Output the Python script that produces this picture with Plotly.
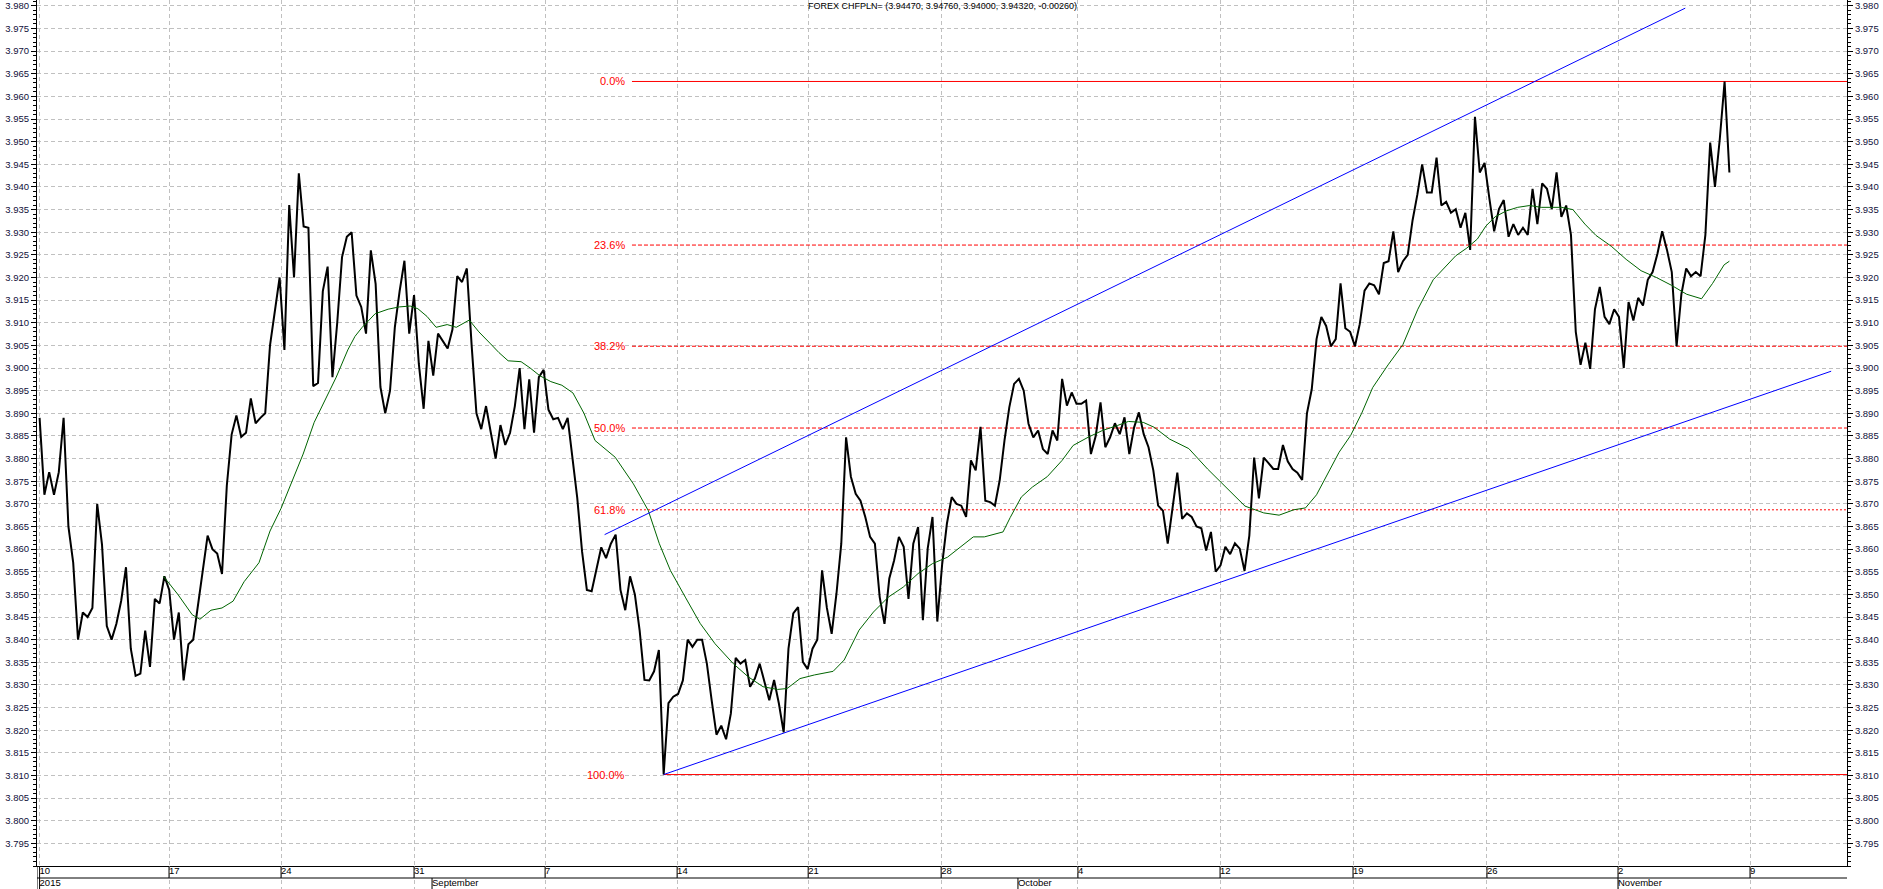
import plotly.graph_objects as go

# ---------------- data ----------------
close = [
    3.889, 3.872, 3.877, 3.872, 3.877, 3.889, 3.865, 3.857, 3.840, 3.846,
    3.845, 3.847, 3.870, 3.861, 3.843, 3.840, 3.8435, 3.8486, 3.856, 3.838,
    3.832, 3.8325, 3.842, 3.834, 3.849, 3.848, 3.854, 3.851, 3.840, 3.846,
    3.831, 3.839, 3.840, 3.848, 3.855, 3.863, 3.860, 3.859, 3.8545, 3.874,
    3.8853, 3.8895, 3.8848, 3.8857, 3.8933, 3.8878, 3.889, 3.890, 3.905, 3.9127,
    3.920, 3.904, 3.936, 3.920, 3.943, 3.9313, 3.931, 3.896, 3.8967, 3.917,
    3.9224, 3.898, 3.910, 3.9245, 3.929, 3.930, 3.916, 3.9135, 3.9076, 3.926,
    3.9186, 3.8958, 3.890, 3.895, 3.909, 3.917, 3.9237, 3.9076, 3.9161, 3.9009,
    3.891, 3.906, 3.8983, 3.9076, 3.906, 3.9043, 3.9085, 3.9203, 3.919, 3.922,
    3.905, 3.890, 3.8865, 3.8916, 3.8857, 3.880, 3.8874, 3.883, 3.8857, 3.8916,
    3.900, 3.8865, 3.8975, 3.8857, 3.898, 3.8996, 3.8908, 3.8887, 3.889, 3.8865,
    3.889, 3.880, 3.8713, 3.8595, 3.851, 3.8507, 3.8553, 3.8604, 3.858, 3.8612,
    3.8632, 3.851, 3.8465, 3.854, 3.850, 3.842, 3.8311, 3.831, 3.833, 3.8377,
    3.8102, 3.826, 3.8274, 3.828, 3.831, 3.840, 3.8384, 3.840, 3.840, 3.8347,
    3.8266, 3.819, 3.821, 3.818, 3.8237, 3.836, 3.8347, 3.8355, 3.8296, 3.8314,
    3.8347, 3.8303, 3.8266, 3.8311, 3.8259, 3.8195, 3.838, 3.8458, 3.8472, 3.8351,
    3.8335, 3.838, 3.840, 3.8553, 3.847, 3.8413, 3.8502, 3.8612, 3.8847, 3.876,
    3.8722, 3.8707, 3.8671, 3.8627, 3.8612, 3.8494, 3.8435, 3.8535, 3.8575, 3.8627,
    3.8605, 3.849, 3.8612, 3.8649, 3.8443, 3.8601, 3.8671, 3.844, 3.8565, 3.8656,
    3.8715, 3.870, 3.8696, 3.8671, 3.8796, 3.8774, 3.887, 3.8707, 3.8704, 3.8696,
    3.8752, 3.884, 3.8913, 3.8965, 3.8976, 3.895, 3.8877, 3.8847, 3.8862, 3.8821,
    3.881, 3.8862, 3.884, 3.8976, 3.8917, 3.8946, 3.8921, 3.8921, 3.8928, 3.881,
    3.885, 3.8924, 3.8825, 3.8847, 3.8878, 3.8854, 3.8891, 3.881, 3.8869, 3.8902,
    3.8854, 3.8825, 3.8774, 3.8696, 3.8685, 3.8612, 3.8689, 3.8769, 3.8667, 3.8679,
    3.8671, 3.865, 3.8646, 3.8597, 3.8638, 3.855, 3.8564, 3.8605, 3.8589, 3.8613,
    3.8601, 3.8552, 3.863, 3.8802, 3.8712, 3.8802, 3.879, 3.8777, 3.8777, 3.883,
    3.8794, 3.8777, 3.8769, 3.8753, 3.890, 3.8953, 3.9064, 3.9113, 3.9093, 3.9048,
    3.9064, 3.9187, 3.9088, 3.908, 3.9048, 3.9097, 3.9171, 3.9187, 3.9183, 3.9163,
    3.9232, 3.9236, 3.9302, 3.9212, 3.9236, 3.925, 3.9326, 3.9383, 3.945, 3.9388,
    3.9388, 3.9465, 3.9359, 3.9367, 3.9343, 3.9351, 3.931, 3.9343, 3.9261, 3.9555,
    3.9432, 3.9453, 3.9375, 3.9302, 3.9351, 3.9371, 3.929, 3.9318, 3.9294, 3.931,
    3.9294, 3.9396, 3.9318, 3.9408, 3.9396, 3.9351, 3.9432, 3.9334, 3.9359, 3.9294,
    3.908, 3.9007, 3.9056, 3.8998, 3.913, 3.9179, 3.9113, 3.9097, 3.913, 3.9113,
    3.900, 3.9146, 3.9105, 3.9155, 3.9138, 3.9195, 3.9212, 3.9252, 3.9302, 3.9261,
    3.9212, 3.9048, 3.9163, 3.922, 3.9203, 3.9212, 3.9203, 3.9294, 3.9498, 3.940,
    3.9506, 3.9633, 3.9432,
]
bars = list(range(len(close)))

# moving average (green): bar position / value
ma_x = [
    25.8, 28.8, 31.8, 33.4, 35.7, 38.0, 40.3, 42.6, 45.7, 48.0,
    50.3, 52.6, 54.9, 57.2, 59.5, 61.8, 64.2, 65.7, 67.2, 69.9,
    72.6, 74.9, 77.2, 78.8, 80.7, 82.6, 84.9, 86.8, 89.5, 91.5,
    93.8, 95.7, 97.6, 100.3, 102.2, 104.2, 106.5, 108.8, 111.1, 113.4,
    115.7, 118.0, 119.9, 123.7, 126.8, 129.1, 131.4, 134.5, 137.6, 140.7,
    144.5, 147.6, 150.7, 153.7, 155.7, 158.4, 161.4, 165.3, 167.6, 170.7,
    173.7, 176.8, 179.9, 183.0, 186.0, 189.1, 192.2, 194.5, 196.8, 200.7,
    202.2, 204.5, 206.8, 209.9, 213.0, 215.3, 218.4, 221.4, 224.5, 226.8,
    229.9, 232.2, 235.4, 239.4, 243.3, 247.2, 251.1, 255.0, 258.2, 261.3,
    263.7, 266.0, 268.4, 270.7, 273.1, 275.4, 277.7, 280.9, 284.0, 287.1,
    290.3, 292.6, 295.0, 297.3, 299.5, 301.3, 303.2, 305.5, 307.9, 310.4,
    312.8, 315.2, 317.0, 319.4, 321.9, 324.2, 327.4, 330.5, 333.6, 336.8,
    339.9, 343.1, 346.2, 348.5, 350.9, 352.0,
]
ma_y = [
    3.854, 3.850, 3.8455, 3.8445, 3.8465, 3.847, 3.8485, 3.8528, 3.857, 3.864,
    3.869, 3.875, 3.881, 3.888, 3.893, 3.898, 3.904, 3.907, 3.909, 3.912,
    3.913, 3.9135, 3.9137, 3.9131, 3.9114, 3.909, 3.9096, 3.909, 3.9106, 3.908,
    3.9055, 3.9034, 3.9016, 3.9014, 3.900, 3.8983, 3.897, 3.8962, 3.8945, 3.890,
    3.884, 3.882, 3.8803, 3.8744, 3.8685, 3.8612, 3.8553, 3.8494, 3.8436, 3.8391,
    3.8347, 3.8318, 3.8296, 3.829, 3.8292, 3.8314, 3.8322, 3.833, 3.8355, 3.8421,
    3.8461, 3.8494, 3.8516, 3.8546, 3.8568, 3.8582, 3.8608, 3.8627, 3.8627, 3.8638,
    3.867, 3.8715, 3.8737, 3.876, 3.8796, 3.8829, 3.8847, 3.8862, 3.8873, 3.8882,
    3.888, 3.8869, 3.8843, 3.8822, 3.8777, 3.8736, 3.8695, 3.868, 3.8675, 3.8687,
    3.8691, 3.872, 3.8769, 3.8814, 3.8851, 3.890, 3.8957, 3.9007, 3.9052, 3.913,
    3.9195, 3.922, 3.9248, 3.9265, 3.9285, 3.9314, 3.9334, 3.9347, 3.9355, 3.9359,
    3.9355, 3.9355, 3.9355, 3.935, 3.9318, 3.9293, 3.9269, 3.924, 3.9215, 3.920,
    3.9183, 3.9163, 3.9153, 3.9187, 3.9228, 3.9236,
]

# channel (trend) lines: bar position / price
trend_up_x = [117.7, 342.8]
trend_up_y = [3.8632, 3.9795]
trend_lo_x = [130.0, 373.2]
trend_lo_y = [3.8102, 3.8993]

# Fibonacci retracement
fib_high = 3.9633
fib_low = 3.8102
fib_label_x = 123.4
fib_levels = [0.0, 23.6, 38.2, 50.0, 61.8, 100.0]
fib_line_x0 = [123.4, 123.4, 123.4, 123.4, 123.4, 130.0]
fib_dash = ["solid", "4px,2px", "4px,2px", "4px,2px", "2px,2px", "solid"]

# time axis (bar positions of week starts / month starts)
week_pos = [0, 26.96, 50.3, 78.0, 105.3, 132.8, 160.1, 187.8, 216.3, 245.9, 273.6, 301.5, 328.8, 356.3]
week_lbl = ["10", "17", "24", "31", "7", "14", "21", "28", "4", "12", "19", "26", "2", "9"]
month_pos = [0, 81.75, 203.8, 328.8]
month_lbl = ["2015", "September", "October", "November"]

y_ticks = [round(3.795 + 0.005 * i, 3) for i in range(38)]
y_text = [f"{v:.3f}" for v in y_ticks]

title_text = "FOREX CHFPLN= (3.94470, 3.94760, 3.94000, 3.94320, -0.00260)"

X_MIN, X_MAX = -0.54, 376.5
Y_MIN, Y_MAX = 3.790, 3.9813

W, H = 1883, 889
STRIP = 23  # px height of the date strip
FONT = "Liberation Sans, Arial, sans-serif"
GRID = "#c0c0c0"

fig = go.Figure()

fig.add_trace(go.Scatter(x=bars, y=close, mode="lines",
                         line=dict(color="black", width=2), hoverinfo="skip", showlegend=False))
fig.add_trace(go.Scatter(x=ma_x, y=ma_y, mode="lines", yaxis="y3",
                         line=dict(color="#006400", width=1), hoverinfo="skip", showlegend=False))
fig.add_trace(go.Scatter(x=trend_up_x, y=trend_up_y, mode="lines", yaxis="y3",
                         line=dict(color="#0000ff", width=1), hoverinfo="skip", showlegend=False))
fig.add_trace(go.Scatter(x=trend_lo_x, y=trend_lo_y, mode="lines", yaxis="y3",
                         line=dict(color="#0000ff", width=1), hoverinfo="skip", showlegend=False))

# date strip text
fig.add_trace(go.Scatter(x=week_pos, y=[17.2] * len(week_pos), text=week_lbl, mode="text",
                         yaxis="y4", textposition="middle right", cliponaxis=False,
                         textfont=dict(family=FONT, size=9.5, color="black"),
                         hoverinfo="skip", showlegend=False))
fig.add_trace(go.Scatter(x=month_pos, y=[5.5] * len(month_pos), text=month_lbl, mode="text",
                         yaxis="y4", textposition="middle right", cliponaxis=False,
                         textfont=dict(family=FONT, size=9.5, color="black"),
                         hoverinfo="skip", showlegend=False))

shapes = []
annotations = []
rng = fib_high - fib_low
for lvl, x0, dash in zip(fib_levels, fib_line_x0, fib_dash):
    val = fib_high - rng * lvl / 100.0
    shapes.append(dict(type="line", xref="x", yref="y", x0=x0, x1=X_MAX, y0=val, y1=val,
                       line=dict(color="#ff0000", width=1, dash=dash), layer="between"))
    annotations.append(dict(xref="x", yref="y", x=fib_label_x, y=val, xanchor="right", yanchor="middle",
                            xshift=-5, text=f"{lvl:.1f}%", showarrow=False,
                            font=dict(family=FONT, size=11, color="#ff0000")))

# date strip frame
shapes.append(dict(type="line", xref="x", yref="y4", x0=X_MIN, x1=X_MAX, y0=11, y1=11,
                   line=dict(color="black", width=1)))
shapes.append(dict(type="line", xref="x", yref="y4", x0=X_MIN, x1=X_MIN, y0=0, y1=STRIP,
                   line=dict(color="black", width=1)))
for p in week_pos:
    shapes.append(dict(type="line", xref="x", yref="y4", x0=p, x1=p, y0=11, y1=STRIP,
                       line=dict(color="black", width=1)))
for p in month_pos:
    shapes.append(dict(type="line", xref="x", yref="y4", x0=p, x1=p, y0=0, y1=11,
                       line=dict(color="black", width=1)))

annotations.append(dict(xref="paper", yref="paper", x=0.5, y=1, xanchor="center", yanchor="top",
                        yshift=1, text=title_text, showarrow=False,
                        font=dict(family=FONT, size=9, color="black")))

ytick_common = dict(
    range=[Y_MIN, Y_MAX], tickmode="array", tickvals=y_ticks, ticktext=y_text,
    ticks="outside", ticklen=5, tickcolor="black", tickwidth=1,
    showline=True, linecolor="black", linewidth=1, zeroline=False,
    tickfont=dict(family=FONT, size=9.5, color="#10103a"),
    minor=dict(tickmode="linear", tick0=3.790, dtick=0.001, ticks="outside", ticklen=3,
               tickcolor="black", showgrid=False),
    fixedrange=True,
)

fig.update_layout(
    width=W, height=H, autosize=False,
    margin=dict(l=37, r=36, t=0, b=0, pad=0),
    paper_bgcolor="white", plot_bgcolor="white",
    showlegend=False, hovermode=False,
    xaxis=dict(range=[X_MIN, X_MAX], tickmode="array", tickvals=week_pos, showticklabels=False,
               ticks="", showgrid=True, gridcolor=GRID, gridwidth=1, griddash="4px,3px",
               showline=True, linecolor="black", linewidth=1, zeroline=False, anchor="y",
               fixedrange=True),
    yaxis=dict(domain=[STRIP / H, 1], side="left", showgrid=True, gridcolor=GRID, gridwidth=1,
               griddash="4px,3px", anchor="x", **ytick_common),
    yaxis3=dict(overlaying="y", side="right", showgrid=False, anchor="x", **ytick_common),
    yaxis4=dict(domain=[0, STRIP / H], range=[0, STRIP], visible=False, anchor="x", fixedrange=True),
    shapes=shapes,
    annotations=annotations,
)

fig.write_html("out.html")
